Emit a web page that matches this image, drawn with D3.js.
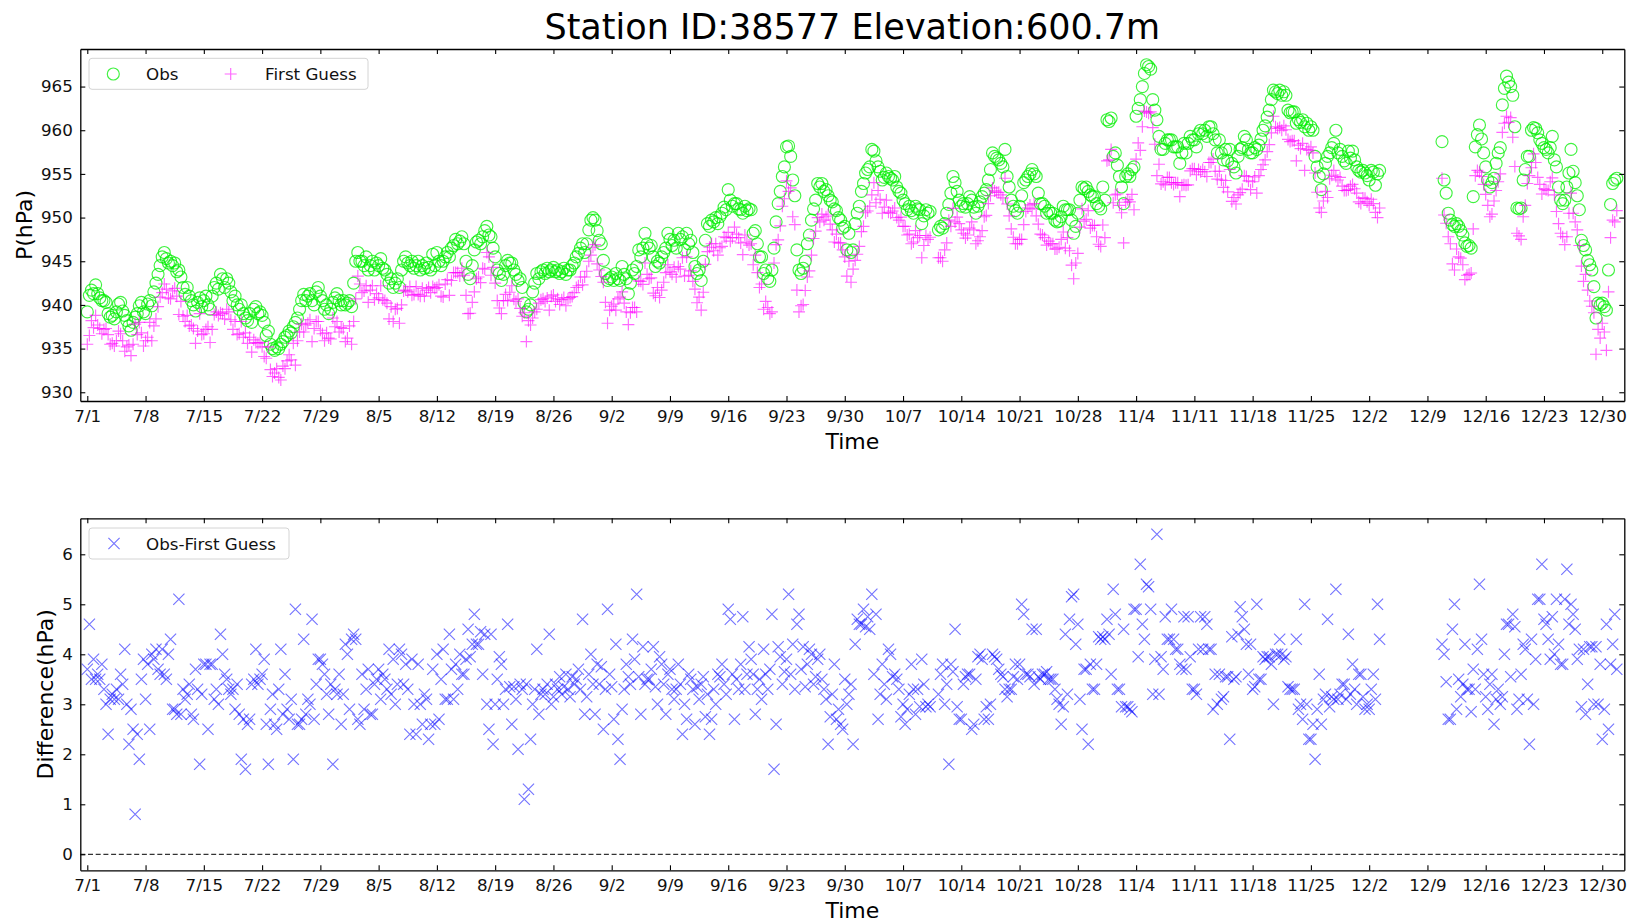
<!DOCTYPE html>
<html>
<head>
<meta charset="utf-8">
<script src="https://cdn.jsdelivr.net/npm/d3@7"></script>
<style>
  html, body { margin: 0; padding: 0; background: #fff; }
  svg { display: block; font-family: "DejaVu Sans", sans-serif; }
</style>
</head>
<body>
<svg id="chart" width="1635" height="923"></svg>
<script>
// station pressure, 4 obs per day (00,06,12,18)
const obsJul = [
  939.2,941.1,941.7,941.3, 942.3,941.3,940.8,940.5, 940.5,940.3,939.0,938.6, 938.8,938.4,939.2,940.1,
  940.3,939.3,938.8,938.2, 937.6,937.1,938.0,938.6, 939.0,939.9,940.3,939.2, 939.0,940.1,940.5,939.9,
  941.5,942.5,943.5,944.5, 945.5,946.0,945.3,944.8, 945.0,944.5,944.8,943.8, 944.0,943.2,942.0,941.2,
  942.0,941.0,940.5,940.0, 939.3,940.3,940.8,939.8, 940.5,941.0,940.0,939.5, 941.0,942.0,942.5,941.8,
  943.5,943.0,942.0,943.0, 942.5,941.5,940.5,941.0, 940.0,939.5,940.0,939.0, 938.5,938.2,939.0,938.0,
  939.5,939.8,939.0,939.2, 938.8,938.0,936.5,937.0, 935.5,935.0,934.8,935.2, 935.0,935.5,935.8,936.3,
  936.5,937.0,936.8,937.5, 938.0,938.5,939.5,940.5, 941.2,940.5,941.0,941.3, 940.5,940.0,941.5,942.0,
  941.0,940.5,939.5,940.0, 939.0,939.5,940.3,940.8, 941.3,940.5,940.0,940.5
];
const obsAug = [
  940.0,940.2,940.5,939.8, 942.5,945.0,946.0,945.0, 945.0,944.5,945.5,944.0, 944.5,945.0,944.0,944.8,
  944.5,945.3,944.2,944.0, 943.5,942.5,943.0,942.0, 942.5,943.0,942.0,944.0, 945.0,945.5,944.8,944.5,
  945.0,944.2,944.5,945.0, 944.0,944.5,944.2,944.8, 944.3,944.0,945.8,944.5, 946.0,945.0,944.5,945.0,
  945.5,946.0,945.5,946.5, 946.8,947.5,947.0,947.3, 947.8,947.0,945.0,943.5, 943.0,944.5,946.3,947.2,
  947.4,947.0,947.8,948.5, 949.0,948.0,947.8,946.5, 945.5,944.0,943.6,942.8, 943.5,944.5,945.1,944.8,
  944.8,944.0,943.5,942.8, 943.0,942.0,940.2,939.2, 939.5,940.0,941.5,942.5, 943.6,943.0,943.8,944.0,
  943.6,944.2,943.8,944.0, 944.3,943.8,944.0,943.6, 943.8,944.2,943.5,944.0, 944.0,944.5,944.8,945.5,
  945.9,946.5,947.0,946.0, 947.0,948.6,949.7,950.0, 949.7,948.5,947.4,947.0
];
const obsSep = [
  945.1,943.6,942.8,943.0, 943.2,942.8,943.6,943.0, 942.8,944.4,943.5,943.0, 941.3,942.5,944.0,943.6,
  944.4,946.3,945.5,946.5, 948.2,947.0,946.5,946.8, 945.5,944.4,945.0,944.8, 945.5,946.0,946.5,948.2,
  947.5,946.8,947.4,946.5, 948.2,947.5,947.8,946.3, 948.2,947.0,947.4,946.0, 944.4,943.6,944.0,942.8,
  945.0,947.4,949.3,949.0, 949.7,949.5,950.0,949.3, 950.1,950.5,951.2,950.9, 953.2,952.0,951.3,951.6,
  951.6,951.0,950.9,950.5, 951.3,950.8,951.0,950.9, 948.2,948.5,947.0,945.5, 945.5,943.6,944.0,943.0,
  942.7,944.0,946.5,949.5, 951.6,953.0,954.7,955.8, 958.1,958.2,957.0,954.3, 952.5,946.3,944.0,943.6,
  944.2,945.0,947.0,948.0, 949.7,951.0,952.0,953.9, 953.5,953.9,953.0,953.2, 952.5,952.0,951.8,951.0,
  950.8,950.0,949.7,948.8, 949.0,946.3,948.2,946.0
];
const obsOct = [
  946.3,949.3,950.5,951.3, 953.0,953.9,955.1,955.5, 955.8,957.8,957.6,956.5, 955.8,955.3,954.3,954.6,
  955.1,954.7,954.5,954.3, 954.7,953.5,953.0,952.8, 952.0,951.6,950.9,951.3, 950.8,950.5,951.3,951.0,
  950.9,949.3,950.2,950.9, 950.5,950.7,null,null, null,948.6,949.0,948.8, 949.3,950.5,951.5,952.8,
  954.7,954.0,953.0,952.0, 951.3,951.6,951.2,951.6, 952.4,952.0,951.2,950.5, 951.3,951.8,952.4,952.8,
  953.2,954.3,955.5,957.4, 957.0,956.8,956.6,956.2, 955.8,957.8,954.7,953.5, 952.0,951.3,950.8,950.5,
  951.3,952.5,954.0,954.3, 954.7,955.0,955.5,955.0, 954.7,952.8,951.6,951.6, 951.3,950.5,950.8,950.5,
  950.5,949.7,949.5,949.6, 950.1,951.3,950.9,950.9, 950.9,949.7,948.2,949.0, 950.5,952.0,953.5,953.3,
  953.5,953.0,952.6,952.4, 952.4,951.6,951.3,951.0, 953.5,952.0,961.2,961.0
];
const obsNov = [
  961.4,957.0,957.4,956.0, 954.7,953.5,951.6,954.7, 955.0,954.7,955.5,955.8, 961.6,962.5,963.5,965.0,
  966.5,967.5,967.3,967.0, 963.5,962.3,961.2,959.3, 957.8,957.8,958.5,958.9, 958.9,958.9,958.1,958.1,
  958.1,956.2,957.4,958.5, 957.4,958.5,959.3,958.9, 958.9,958.1,959.6,960.0, 959.6,960.0,959.3,960.4,
  960.4,959.6,958.9,957.4, 958.9,957.4,956.6,957.8, 956.5,957.8,956.2,955.8, 955.1,957.0,957.8,958.0,
  959.3,958.9,957.8,957.4, 957.4,958.0,957.8,958.3, 959.0,960.0,960.5,961.5, 962.3,963.5,964.6,964.4,
  964.2,964.6,964.0,964.4, 964.0,962.3,962.0,962.1, 962.1,960.8,961.2,960.9, 961.2,960.4,960.8,960.0,
  960.4,960.0,957.0,955.8, 954.7,953.2,955.0,956.2, 957.0,957.4,958.0,958.5, 960.0,957.4,957.8,957.0,
  956.5,956.2,957.6,956.8, 957.6,956.6,955.8,955.4
];
const obsDec = [
  955.2,955.4,955.1,954.8, 954.3,955.4,955.2,953.7, 955.0,955.4,null,null, null,null,null,null,
  null,null,null,null, null,null,null,null, null,null,null,null, null,null,null,null,
  null,null,null,null, null,null,null,958.7, 954.3,952.8,950.5,949.7, 949.2,949.0,949.3,949.0,
  948.5,948.0,947.1,946.7, 946.8,946.5,952.4,958.1, 959.5,960.6,959.0,957.4, 955.8,954.3,953.5,954.0,
  954.5,956.2,957.4,958.0, 962.9,964.8,966.2,965.5, 965.0,964.0,960.4,951.1, 951.0,951.1,954.3,955.5,
  957.0,957.0,960.0,960.3, 960.2,959.7,958.9,958.5, 958.0,957.8,957.4,958.0, 959.3,956.6,955.8,953.5,
  952.0,951.6,952.0,953.5, 955.1,957.8,955.3,954.0, 952.5,950.9,947.4,946.8, 946.3,945.1,944.6,944.0,
  942.1,938.5,940.2,940.0, 940.2,939.8,939.4,944.0, 951.5,953.9,954.3,954.5
];

// Obs - First Guess (hPa), same time slots
const diffJul = [
  3.7,4.6,3.5,3.9, 3.5,3.6,3.5,3.8, 3.3,3.0,2.4,3.1, 3.2,3.1,3.3,3.1,
  3.6,3.4,4.1,3.0, 2.2,2.9,2.5,0.8, 2.4,1.9,3.5,3.9, 3.1,3.8,2.5,4.0,
  3.9,4.1,3.7,3.6, 4.1,3.6,3.5,4.0, 4.3,2.9,2.9,2.8, 5.1,2.8,3.3,3.1,
  3.2,3.4,2.8,2.7, 3.7,3.3,1.8,3.2, 3.8,3.8,2.5,3.8, 3.8,3.1,3.3,3.0,
  4.4,4.0,3.6,3.5, 3.3,3.2,3.3,2.9, 3.4,2.8,1.9,2.7, 1.7,2.6,2.7,3.4,
  3.5,4.1,3.4,3.5, 3.6,3.9,2.6,1.8, 2.9,3.2,2.6,2.5, 3.3,4.1,2.8,3.6,
  2.9,2.7,3.1,1.9, 4.9,2.6,2.6,2.7, 4.3,2.8,3.1,3.0, 4.7,2.7,3.4,3.9,
  3.9,3.8,3.6,3.2, 2.8,3.4,1.8,3.3, 3.2,3.6,2.6,3.2
];
const diffAug = [
  4.2,4.0,2.9,4.3, 4.4,4.3,2.7,2.6, 3.6,2.9,3.3,3.7, 2.8,2.8,3.4,3.5,
  3.7,3.1,3.6,3.5, 3.3,4.1,3.2,3.9, 3.0,3.4,4.1,4.0, 3.4,3.8,3.3,2.4,
  3.9,3.0,2.4,3.8, 3.0,2.6,3.2,3.1, 2.3,2.6,3.7,2.6, 4.0,2.7,3.5,4.1,
  3.1,3.1,4.4,3.7, 3.1,3.8,3.3,4.0, 3.6,3.6,3.9,4.5, 3.95,4.2,4.8,4.2,
  4.2,4.45,3.6,4.4, 3.0,2.5,4.4,2.2, 3.0,3.5,3.95,3.8, 3.0,3.3,4.6,3.35,
  2.6,3.35,3.1,2.1, 3.4,3.3,1.1,3.4, 1.3,2.3,3.0,3.3, 4.1,2.8,3.2,3.3,
  3.2,3.4,4.4,3.0, 3.15,3.4,3.3,3.55, 3.2,3.35,3.6,3.3, 3.15,3.55,3.4,3.5,
  3.7,3.3,4.7,2.8, 3.15,3.6,4.0,3.4, 2.8,3.8,3.4,3.75
];
const diffSep = [
  2.5,3.3,4.9,3.6, 3.35,2.7,4.2,2.3, 1.9,2.9,3.3,3.8, 3.55,3.4,4.3,3.9,
  5.2,3.55,2.8,4.15, 3.4,3.5,3.5,3.7, 4.15,3.35,3.0,3.95, 3.8,3.4,2.8,3.6,
  3.7,3.3,3.1,3.3, 3.8,3.4,2.4,3.0, 2.7,3.6,3.5,3.3, 2.6,3.35,3.1,3.4,
  3.55,2.75,3.2,2.4, 2.7,3.3,3.0,3.6, 3.55,3.8,3.4,3.2, 4.9,4.7,3.6,2.7,
  3.5,3.3,3.8,4.75, 3.3,3.6,4.15,3.9, 3.6,2.8,3.3,3.5, 3.1,4.1,3.6,3.3,
  3.7,4.8,1.7,2.6, 4.15,3.95,3.4,3.65, 3.9,5.2,3.6,4.2, 3.3,4.6,4.8,3.7,
  4.15,3.35,3.8,4.1, 4.0,3.4,3.55,3.9, 4.0,3.5,3.3,3.1, 2.2,2.75,3.2,3.8,
  2.7,2.9,2.6,2.5, 3.5,3.0,3.2,3.4
];
const diffOct = [
  2.2,4.2,4.7,4.6, 4.6,4.9,4.55,4.75, 4.5,5.2,3.6,4.8, 2.7,3.2,3.8,3.4,
  3.1,4.1,4.0,3.55, 3.6,3.5,3.3,2.75, 3.0,2.6,2.9,3.2, 3.8,3.3,2.8,3.3,
  2.95,3.9,3.4,2.95, 3.0,2.95,null,null, null,3.2,3.6,3.8, 3.0,3.4,1.8,3.8,
  3.65,4.5,2.95,2.7, 2.7,3.4,3.55,3.6, 3.6,2.5,2.6,3.5, 3.95,4.0,3.9,2.7,
  2.95,2.7,3.0,4.0, 3.95,3.9,3.7,3.6, 3.55,3.3,3.15,3.3, 3.3,3.55,3.8,3.5,
  3.8,5.0,4.8,3.6, 3.6,3.55,4.5,3.4, 4.5,3.55,3.5,3.6, 3.6,3.65,3.5,3.5,
  3.5,3.3,3.1,3.0, 2.6,2.95,4.4,3.2, 4.7,5.15,5.2,4.2, 4.6,3.1,2.5,3.7,
  3.7,2.2,3.8,3.3, 3.3,3.8,4.35,4.3, 4.35,4.3,4.7,4.4
];
const diffNov = [
  3.6,5.3,4.8,3.3, 3.3,2.95,4.5,2.95, 2.95,2.9,2.85,4.9, 4.9,3.95,5.8,4.6,
  4.3,5.4,5.35,4.9, 3.2,3.9,6.4,3.2, 3.95,3.7,4.75,4.3, 4.3,4.9,4.3,4.1,
  4.1,3.8,3.7,4.75, 3.7,4.75,3.95,3.3, 3.3,3.2,4.1,4.75, 4.1,4.75,4.6,4.1,
  4.1,2.9,3.6,3.0, 3.6,3.1,3.15,3.55, 3.55,2.3,4.35,3.5, 3.55,4.4,4.95,4.75,
  4.5,4.2,3.6,4.2, 3.3,3.35,5.0,3.5, 3.5,3.95,3.9,3.95, 3.95,3.8,3.0,4.0,
  4.0,4.3,4.0,3.9, 3.95,3.35,3.3,3.3, 3.3,4.3,2.9,3.0, 2.7,5.0,3.0,2.3,
  2.3,2.6,1.9,2.9, 3.6,2.6,3.1,3.2, 4.7,2.95,3.15,3.1, 5.3,3.1,3.2,3.4,
  3.4,3.1,4.4,3.2, 3.8,3.3,3.0,3.6
];
const diffDec = [
  3.6,3.15,2.9,3.0, 2.9,3.3,3.6,3.1, 5.0,4.3,null,null, null,null,null,null,
  null,null,null,null, null,null,null,null, null,null,null,null, null,null,null,null,
  null,null,null,null, null,null,null,4.2, 4.0,3.45,2.7,2.7, 4.5,5.0,2.9,3.5,
  3.15,3.4,4.2,3.3, 3.3,2.85,3.7,3.3, 4.1,5.4,4.3,3.6, 3.15,2.9,3.4,3.6,
  2.6,3.1,3.3,3.0, 3.15,4.0,4.6,4.6, 3.55,4.8,4.55,2.9, 3.1,3.6,4.2,4.1,
  3.1,2.2,4.3,3.0, 3.9,5.1,5.1,5.8, 4.7,4.6,4.3,3.9, 4.75,4.0,5.1,4.2,
  3.8,3.8,5.1,5.7, 4.6,5.0,4.8,4.5, 3.9,4.1,2.95,4.1, 2.8,3.4,4.15,4.15,
  3.0,4.15,3.0,3.8, 2.3,2.9,4.6,2.5, 3.8,4.2,4.8,3.7
];

const tickLabels = ["7/1","7/8","7/15","7/22","7/29","8/5","8/12","8/19","8/26","9/2","9/9","9/16",
  "9/23","9/30","10/7","10/14","10/21","10/28","11/4","11/11","11/18","11/25","12/2","12/9",
  "12/16","12/23","12/30"];
const pTicks = [930, 935, 940, 945, 950, 955, 960, 965];
const dTicks = [0, 1, 2, 3, 4, 5, 6];

const year = 2021;
const months = [
  {m: 6, obs: obsJul, diff: diffJul},
  {m: 7, obs: obsAug, diff: diffAug},
  {m: 8, obs: obsSep, diff: diffSep},
  {m: 9, obs: obsOct, diff: diffOct},
  {m: 10, obs: obsNov, diff: diffNov},
  {m: 11, obs: obsDec, diff: diffDec}
];

let points = [];
months.forEach(mo => {
  mo.obs.forEach((v, i) => {
    if (v === null || mo.diff[i] === null) return;
    let t = new Date(Date.UTC(year, mo.m, 1 + Math.floor(i / 4), (i % 4) * 6));
    points.push({t: t, obs: v, diff: mo.diff[i], fg: +(v - mo.diff[i]).toFixed(2)});
  });
});

const parseTick = d3.utcParse("%Y/%m/%d");
const tickDates = tickLabels.map(s => parseTick(year + "/" + s));

const svg = d3.select("#chart");
svg.append("rect").attr("width", 1635).attr("height", 923).attr("fill", "#fff");

const left = 80.3, right = 1624.3;
const top1 = 49, bot1 = 401;
const top2 = 518.3, bot2 = 870.3;
const DAY = 86400000;

const x = d3.scaleUtc()
  .domain([new Date(Date.UTC(year, 6, 1) - 0.84 * DAY), new Date(Date.UTC(year, 6, 1) + 184.65 * DAY)])
  .range([left, right]);
const y1 = d3.scaleLinear().domain([929.0, 969.3]).range([bot1, top1]);
const y2 = d3.scaleLinear().domain([-0.32, 6.72]).range([bot2, top2]);

const fmt = d3.utcFormat("%-m/%-d");

// marker shapes
const R = 6;
const plusPath = `M${-R},0H${R}M0,${-R}V${R}`;
const xPath = "M-5.6,-5.6L5.6,5.6M-5.6,5.6L5.6,-5.6";

function clip(id, y0, y1_) {
  svg.append("clipPath").attr("id", id)
    .append("rect").attr("x", left).attr("y", y0).attr("width", right - left).attr("height", y1_ - y0);
}
clip("c1", top1, bot1);
clip("c2", top2, bot2);

function frame(yScale, yTicks, yTop, yBot) {
  let g = svg.append("g");
  g.append("g").attr("transform", `translate(0,${yBot})`)
    .call(d3.axisBottom(x).tickValues(tickDates).tickFormat(fmt).tickSizeInner(-5).tickSizeOuter(0).tickPadding(9));
  g.append("g").attr("transform", `translate(0,${yTop})`)
    .call(d3.axisTop(x).tickValues(tickDates).tickFormat("").tickSizeInner(-5).tickSizeOuter(0));
  g.append("g").attr("transform", `translate(${left},0)`)
    .call(d3.axisLeft(yScale).tickValues(yTicks).tickFormat(d3.format("d")).tickSizeInner(-5).tickSizeOuter(0).tickPadding(7.5));
  g.append("g").attr("transform", `translate(${right},0)`)
    .call(d3.axisRight(yScale).tickValues(yTicks).tickFormat("").tickSizeInner(-5).tickSizeOuter(0));
  g.selectAll(".domain").attr("stroke", "#000").attr("stroke-width", 1.3);
  g.selectAll(".tick line").attr("stroke", "#000").attr("stroke-width", 1.1);
  g.selectAll(".tick text").attr("font-size", "16.7px").attr("fill", "#111")
    .attr("font-family", "DejaVu Sans");
  return g;
}

// ---- top panel: pressure
const p1 = svg.append("g").attr("clip-path", "url(#c1)");
p1.selectAll("circle").data(points).enter().append("circle")
  .attr("cx", d => x(d.t)).attr("cy", d => y1(d.obs)).attr("r", R)
  .attr("fill", "none").attr("stroke", "#00ee00").attr("stroke-opacity", 0.75).attr("stroke-width", 1.15);
p1.selectAll("path.fg").data(points).enter().append("path").attr("class", "fg")
  .attr("transform", d => `translate(${x(d.t)},${y1(d.fg)})`)
  .attr("d", plusPath)
  .attr("stroke", "#ff00ff").attr("stroke-opacity", 0.6).attr("stroke-width", 1.15);
frame(y1, pTicks, top1, bot1);

// ---- bottom panel: difference
const p2 = svg.append("g").attr("clip-path", "url(#c2)");
p2.append("line").attr("x1", left).attr("x2", right).attr("y1", y2(0)).attr("y2", y2(0))
  .attr("stroke", "#000").attr("stroke-width", 1).attr("stroke-dasharray", "5,2.7");
p2.selectAll("path.df").data(points).enter().append("path").attr("class", "df")
  .attr("transform", d => `translate(${x(d.t)},${y2(d.diff)})`)
  .attr("d", xPath)
  .attr("stroke", "#0000ff").attr("stroke-opacity", 0.55).attr("stroke-width", 1.15);
frame(y2, dTicks, top2, bot2);

// ---- texts
const cx = (left + right) / 2;
svg.append("text").attr("x", cx).attr("y", 39).attr("text-anchor", "middle")
  .attr("font-size", "35px").attr("fill", "#000").text("Station ID:38577 Elevation:600.7m");
svg.append("text").attr("x", cx).attr("y", 449).attr("text-anchor", "middle")
  .attr("font-size", "22px").attr("fill", "#000").text("Time");
svg.append("text").attr("x", cx).attr("y", 918).attr("text-anchor", "middle")
  .attr("font-size", "22px").attr("fill", "#000").text("Time");
svg.append("text").attr("transform", `translate(31.5,${(top1 + bot1) / 2}) rotate(-90)`)
  .attr("text-anchor", "middle").attr("font-size", "22px").attr("fill", "#000").text("P(hPa)");
svg.append("text").attr("transform", `translate(53,${(top2 + bot2) / 2}) rotate(-90)`)
  .attr("text-anchor", "middle").attr("font-size", "22px").attr("fill", "#000").text("Difference(hPa)");

// ---- legends
function legendBox(x0, y0, w, h) {
  svg.append("rect").attr("x", x0).attr("y", y0).attr("width", w).attr("height", h).attr("rx", 3)
    .attr("fill", "#fff").attr("fill-opacity", 0.8).attr("stroke", "#d4d4d4").attr("stroke-width", 1);
}
legendBox(89, 58.3, 279, 31);
svg.append("circle").attr("cx", 113.3).attr("cy", 74).attr("r", R)
  .attr("fill", "none").attr("stroke", "#00ee00").attr("stroke-opacity", 0.75).attr("stroke-width", 1.15);
svg.append("text").attr("x", 146).attr("y", 80).attr("font-size", "16.7px").attr("fill", "#111").text("Obs");
svg.append("path").attr("transform", "translate(230.7,74)").attr("d", plusPath)
  .attr("stroke", "#ff00ff").attr("stroke-opacity", 0.6).attr("stroke-width", 1.15);
svg.append("text").attr("x", 265).attr("y", 80).attr("font-size", "16.7px").attr("fill", "#111").text("First Guess");

legendBox(89, 528, 200, 31);
svg.append("path").attr("transform", "translate(114,543.5)").attr("d", xPath)
  .attr("stroke", "#0000ff").attr("stroke-opacity", 0.55).attr("stroke-width", 1.15);
svg.append("text").attr("x", 146).attr("y", 549.5).attr("font-size", "16.7px").attr("fill", "#111").text("Obs-First Guess");
</script>
</body>
</html>
